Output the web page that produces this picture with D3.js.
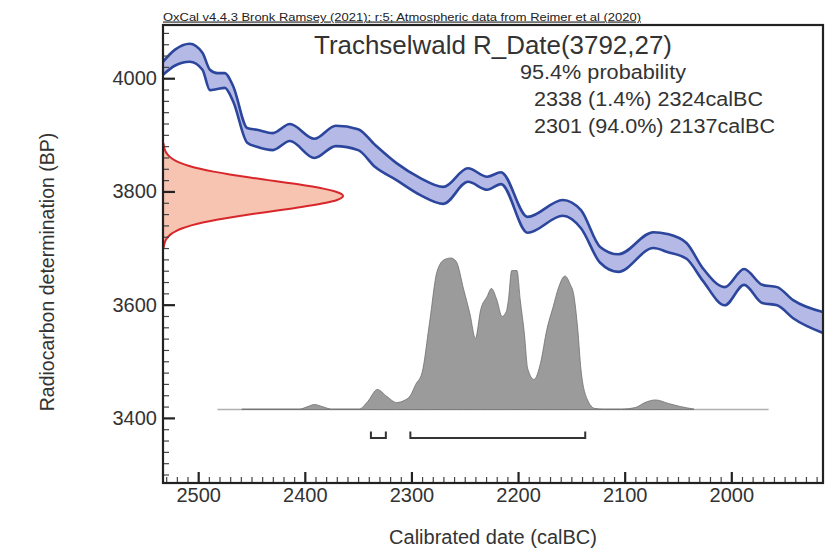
<!DOCTYPE html>
<html>
<head>
<meta charset="utf-8">
<script src="https://cdn.jsdelivr.net/npm/d3@7"></script>
<style>
  html, body { margin: 0; padding: 0; background: #fff; }
  svg { display: block; font-family: Arial, "Liberation Sans", Helvetica, sans-serif; }
</style>
</head>
<body>
<svg id="chart" width="834" height="549"></svg>
<script>
// ---------- data ----------
const curveYears = [2533,2522,2508,2496,2489,2482,2475,2467,2454,2445,2430,2414,2391,2371,2350,2334,2314,2292,2270,2247,2229,2216,2191,2158,2141,2123,2106,2073,2060,2042,2027,2006,1988,1971,1957,1942,1914];
const curveUpper = [4029,4050,4061,4045,4015,4009,4009,3985,3912,3909,3903,3919,3893,3916,3910,3882,3850,3824,3808,3841,3826,3834,3755,3785,3767,3702,3689,3728,3725,3709,3665,3631,3663,3635,3631,3608,3587];
const curveLower = [4006,4022,4029,4015,3979,3981,3983,3958,3886,3879,3873,3889,3859,3880,3873,3843,3820,3794,3778,3817,3803,3813,3727,3757,3735,3674,3658,3700,3693,3681,3643,3599,3635,3603,3599,3576,3550];

const rdateBP = [3700,3705,3710,3715,3720,3725,3730,3735,3740,3745,3750,3755,3760,3765,3770,3775,3780,3785,3790,3792,3795,3800,3805,3810,3815,3820,3825,3830,3835,3840,3845,3850,3855,3860,3865,3870,3875,3880,3885];
const rdateProb = [0.003,0.006,0.010,0.017,0.029,0.046,0.072,0.108,0.157,0.220,0.298,0.391,0.496,0.607,0.718,0.820,0.906,0.967,0.997,1.000,0.994,0.957,0.891,0.801,0.696,0.584,0.474,0.371,0.281,0.206,0.146,0.100,0.066,0.042,0.026,0.015,0.009,0.005,0.003];

const distYears = [2459,2405,2397,2391,2384,2375,2349,2341,2332,2323,2314,2307,2301,2296,2290,2283,2276,2269,2263,2258,2251,2245,2240,2235,2229,2225,2220,2215,2211,2209,2206,2201,2198,2194,2191,2185,2179,2173,2167,2162,2156,2151,2148,2144,2141,2135,2128,2119,2111,2103,2090,2081,2071,2059,2048,2035];
const distProb = [0.003,0.003,0.020,0.033,0.020,0.003,0.003,0.053,0.132,0.086,0.046,0.059,0.092,0.165,0.244,0.574,0.911,0.990,1.000,0.977,0.792,0.627,0.469,0.660,0.746,0.799,0.726,0.614,0.647,0.726,0.917,0.917,0.726,0.495,0.271,0.198,0.304,0.528,0.680,0.805,0.881,0.825,0.766,0.528,0.264,0.066,0.007,0.003,0.003,0.003,0.013,0.046,0.063,0.040,0.020,0.003];
const distBaseline = [2482, 1965];

const rangeStarts = [2338, 2301];
const rangeEnds = [2324, 2137];

const xTicks = [2500, 2400, 2300, 2200, 2100, 2000];
const yTicks = [3400, 3600, 3800, 4000];

const headerText = "OxCal v4.4.3 Bronk Ramsey (2021); r:5; Atmospheric data from Reimer et al (2020)";
const titleText = "Trachselwald R_Date(3792,27)";
const probLines = ["95.4% probability", "2338 (1.4%) 2324calBC", "2301 (94.0%) 2137calBC"];
const xTitle = "Calibrated date (calBC)";
const yTitle = "Radiocarbon determination (BP)";

// ---------- layout ----------
const L = 163, R = 823, T = 25, B = 483;
const svg = d3.select("#chart");

const x = d3.scaleLinear().domain([2533, 1914]).range([L, R]);
const y = d3.scaleLinear().domain([3285, 4094]).range([B, T]);
const xRed = d3.scaleLinear().domain([0, 1]).range([L, 343]);
const yDist = d3.scaleLinear().domain([0, 1]).range([409.5, 258]);

svg.append("defs").append("clipPath").attr("id", "plotclip")
  .append("rect").attr("x", L).attr("y", T).attr("width", R - L).attr("height", B - T);

const plot = svg.append("g").attr("clip-path", "url(#plotclip)");

// calibration curve band
const curveData = curveYears.map((yr, i) => ({ yr, hi: curveUpper[i], lo: curveLower[i] }));
plot.append("path").datum(curveData)
  .attr("d", d3.area().x(d => x(d.yr)).y0(d => y(d.lo)).y1(d => y(d.hi)).curve(d3.curveMonotoneX))
  .attr("fill", "#b5b9e6").attr("stroke", "none");
["hi", "lo"].forEach(k => {
  plot.append("path").datum(curveData)
    .attr("d", d3.line().x(d => x(d.yr)).y(d => y(d[k])).curve(d3.curveMonotoneX))
    .attr("fill", "none").attr("stroke", "#2b469c").attr("stroke-width", 2.6)
    .attr("stroke-linejoin", "round");
});

// radiocarbon date distribution (red)
const redData = rdateBP.map((bp, i) => ({ bp, p: rdateProb[i] }));
plot.append("path").datum(redData)
  .attr("d", d3.area().y(d => y(d.bp)).x0(L).x1(d => xRed(d.p)).curve(d3.curveMonotoneY))
  .attr("fill", "#f6c4b1");
plot.append("path").datum(redData)
  .attr("d", d3.line().y(d => y(d.bp)).x(d => xRed(d.p)).curve(d3.curveMonotoneY))
  .attr("fill", "none").attr("stroke", "#d8272b").attr("stroke-width", 2);

// calibrated distribution (grey)
plot.append("line")
  .attr("x1", x(distBaseline[0])).attr("x2", x(distBaseline[1]))
  .attr("y1", yDist(0)).attr("y2", yDist(0))
  .attr("stroke", "#b0b0b0").attr("stroke-width", 1.5);
const distData = distYears.map((yr, i) => ({ yr, p: distProb[i] }));
plot.append("path").datum(distData)
  .attr("d", d3.area().x(d => x(d.yr)).y0(yDist(0)).y1(d => yDist(d.p)).curve(d3.curveMonotoneX))
  .attr("fill", "#9b9b9b").attr("stroke", "#6f6f6f").attr("stroke-width", 0.8);

// range brackets
rangeStarts.forEach((s, i) => {
  const x1 = x(s), x2 = x(rangeEnds[i]);
  plot.append("path")
    .attr("d", `M${x1},431.5V438H${x2}V431.5`)
    .attr("fill", "none").attr("stroke", "#333").attr("stroke-width", 2);
});

// ---------- axes ----------
const minorX = d3.range(1920, 2531, 10).filter(v => !xTicks.includes(v));
const minorY = d3.range(3300, 4091, 20).filter(v => !yTicks.includes(v));

const gxMinor = svg.append("g").attr("transform", `translate(0,${B})`)
  .call(d3.axisBottom(x).tickValues(minorX).tickSize(-6).tickFormat(""));
const gx = svg.append("g").attr("transform", `translate(0,${B})`)
  .call(d3.axisBottom(x).tickValues(xTicks).tickSize(-11).tickPadding(5).tickFormat(d3.format("d")));
const gyMinor = svg.append("g").attr("transform", `translate(${L},0)`)
  .call(d3.axisLeft(y).tickValues(minorY).tickSize(-6).tickFormat(""));
const gy = svg.append("g").attr("transform", `translate(${L},0)`)
  .call(d3.axisLeft(y).tickValues(yTicks).tickSize(-12).tickPadding(6).tickFormat(d3.format("d")));

[gxMinor, gx, gyMinor, gy].forEach(g => g.select(".domain").remove());
[gxMinor, gyMinor].forEach(g => g.selectAll(".tick line").attr("stroke", "#444").attr("stroke-width", 1.2));
[gx, gy].forEach(g => {
  g.selectAll(".tick line").attr("stroke", "#222").attr("stroke-width", 2.2);
  g.selectAll(".tick text").attr("fill", "#333").attr("font-size", 20)
    .attr("font-family", "Arial, 'Liberation Sans', sans-serif");
});

// frame
svg.append("rect").attr("x", L).attr("y", T).attr("width", R - L).attr("height", B - T)
  .attr("fill", "none").attr("stroke", "#222").attr("stroke-width", 2.2);

// ---------- texts ----------
svg.append("text").attr("x", L).attr("y", 20.5)
  .attr("font-size", 11.5).attr("fill", "#222")
  .attr("text-decoration", "underline")
  .attr("textLength", 478).attr("lengthAdjust", "spacingAndGlyphs")
  .text(headerText);

svg.append("text").attr("x", 314).attr("y", 54)
  .attr("font-size", 25).attr("fill", "#333")
  .attr("textLength", 358).attr("lengthAdjust", "spacingAndGlyphs")
  .text(titleText);

const probX = [520, 534, 534], probY = [79, 106, 132.5], probW = [166, 229, 241];
probLines.forEach((t, i) => {
  svg.append("text").attr("x", probX[i]).attr("y", probY[i])
    .attr("font-size", 19.5).attr("fill", "#333")
    .attr("textLength", probW[i]).attr("lengthAdjust", "spacingAndGlyphs")
    .text(t);
});

svg.append("text").attr("x", 493).attr("y", 544)
  .attr("text-anchor", "middle").attr("font-size", 20).attr("fill", "#333")
  .text(xTitle);

svg.append("text").attr("transform", "translate(54,272) rotate(-90)")
  .attr("text-anchor", "middle").attr("font-size", 19.5).attr("fill", "#333")
  .text(yTitle);
</script>
</body>
</html>
